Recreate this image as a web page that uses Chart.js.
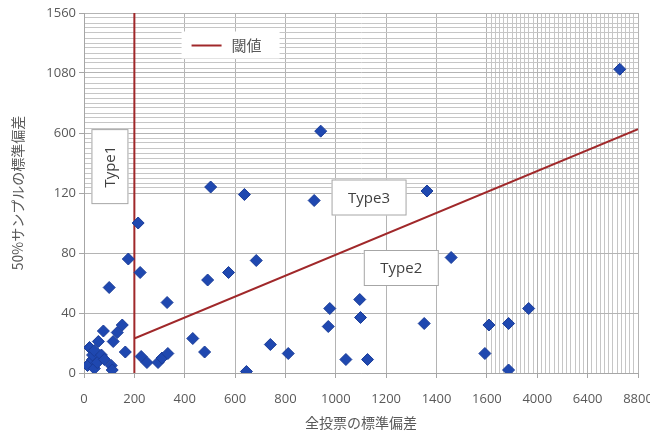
<!DOCTYPE html>
<html>
<head>
<meta charset="utf-8">
<script src="https://cdn.jsdelivr.net/npm/chart.js@4/dist/chart.umd.min.js"></script>
<style>
  html, body { margin: 0; padding: 0; background: #fff; }
  #wrap { width: 650px; height: 447px; }
</style>
</head>
<body>
<div id="wrap"><canvas id="chart" width="650" height="447"></canvas></div>
<script>
// axis breakpoints (the chart uses equal spacing between these labels)
var xBreaks = [0, 200, 400, 600, 800, 1000, 1200, 1400, 1600, 4000, 6400, 8800];
var yBreaks = [0, 40, 80, 120, 600, 1080, 1560];

// scatter: 全投票の標準偏差 vs 50%サンプルの標準偏差
var allVotesSd = [
	14, 22, 34, 34, 41, 41, 53, 57, 69, 77, 81, 108, 112, 116, 132, 152, 164, 227, 250, 294, 310, 333,
	100, 176, 223, 215, 330, 491, 574, 684, 432, 479, 645, 740, 811,
	976, 970, 1040, 1126, 1095, 1098, 1351, 1458, 1592, 1696, 2632, 2632, 3590,
	503, 637, 914, 1362, 940, 7930
];
var sampleSd = [
	5, 17, 9, 12, 15, 3, 7, 21, 12, 28, 9, 5, 2, 21, 27, 32, 14, 11, 7, 7, 10, 13,
	57, 76, 67, 100, 47, 62, 67, 75, 23, 14, 1, 19, 13,
	43, 31, 9, 9, 49, 37, 33, 77, 13, 32, 33, 2, 43,
	168, 119, 115, 136, 615, 1110
];

// 閾値 line
var thresholdX = [200, 200, 200, 8800];
var thresholdY = [1560, 0, 23, 630];

var typeLabels = ['Type1', 'Type2', 'Type3'];

var tickFont = { family: "'Open Sans', 'Noto Sans CJK JP', sans-serif", size: 13 };
var titleFont = { family: "'Noto Sans CJK JP', 'Open Sans', sans-serif", size: 14 };
var textColor = '#595959';

// map a value onto the evenly spaced break index
function toAxis(v, breaks) {
	for (var i = 0; i < breaks.length - 1; i++) {
		if (v <= breaks[i + 1]) {
			return i + (v - breaks[i]) / (breaks[i + 1] - breaks[i]);
		}
	}
	return breaks.length - 1;
}

function isMajor(v) {
	return Math.abs(v - Math.round(v)) < 1e-6;
}

// major ticks at each break, twelve minor lines per step in the compressed part
function makeTicks(max, denseFrom) {
	var ticks = [];
	for (var i = 0; i < denseFrom; i++) {
		ticks.push({ value: i });
	}
	for (var j = denseFrom * 12; j <= max * 12; j++) {
		ticks.push({ value: j / 12 });
	}
	return ticks;
}

var points = allVotesSd.map(function(x, i) {
	return { x: toAxis(x, xBreaks), y: toAxis(sampleSd[i], yBreaks) };
});
var threshold = thresholdX.map(function(x, i) {
	return { x: toAxis(x, xBreaks), y: toAxis(thresholdY[i], yBreaks) };
});

var gridColor = function(c) {
	return c.tick && isMajor(c.tick.value) ? '#b4b4b4' : '#c6c6c6';
};
var tickMarkColor = function(c) {
	return c.tick && isMajor(c.tick.value) ? '#a6a6a6' : 'rgba(0,0,0,0)';
};

function drawBox(ctx, cx, cy, w, h, text, rotate, border) {
	ctx.save();
	ctx.translate(cx, cy);
	if (rotate) ctx.rotate(-Math.PI / 2);
	var bw = rotate ? h : w;
	var bh = rotate ? w : h;
	ctx.fillStyle = '#fff';
	ctx.fillRect(-bw / 2, -bh / 2, bw, bh);
	if (border) {
		ctx.strokeStyle = '#a6a6a6';
		ctx.lineWidth = 1;
		ctx.strokeRect(-bw / 2 + 0.5, -bh / 2 + 0.5, bw - 1, bh - 1);
	}
	ctx.fillStyle = '#404040';
	ctx.font = "15px 'Open Sans', sans-serif";
	ctx.textAlign = 'center';
	ctx.textBaseline = 'middle';
	ctx.fillText(text, 0, 1);
	ctx.restore();
}

var labelPlugin = {
	id: 'labels',
	afterDraw: function(chart) {
		var ctx = chart.ctx;
		var xs = chart.scales.x, ys = chart.scales.y;
		function px(x) { return xs.getPixelForValue(toAxis(x, xBreaks)); }
		function py(y) { return ys.getPixelForValue(toAxis(y, yBreaks)); }

		drawBox(ctx, px(103), py(331), 37, 75, typeLabels[0], true, true);
		drawBox(ctx, px(1260), py(70), 75, 36, typeLabels[1], false, true);
		drawBox(ctx, px(1132), py(117), 75, 36, typeLabels[2], false, true);

		// legend
		var lx = px(582), ly = py(1300);
		ctx.save();
		ctx.fillStyle = '#fff';
		ctx.fillRect(lx - 49, ly - 14, 98, 27);
		ctx.strokeStyle = '#a0282a';
		ctx.lineWidth = 2;
		ctx.beginPath();
		ctx.moveTo(lx - 39, ly);
		ctx.lineTo(lx - 9, ly);
		ctx.stroke();
		ctx.fillStyle = textColor;
		ctx.font = "15px 'Noto Sans CJK JP', sans-serif";
		ctx.textAlign = 'left';
		ctx.textBaseline = 'middle';
		ctx.fillText('閾値', lx + 1, ly);
		ctx.restore();
	}
};

new Chart(document.getElementById('chart'), {
	type: 'scatter',
	data: {
		datasets: [
			{
				label: '閾値',
				type: 'line',
				data: threshold,
				borderColor: '#a0282a',
				borderWidth: 2,
				pointRadius: 0,
				fill: false,
				order: 2
			},
			{
				label: 'data',
				data: points,
				pointStyle: 'rectRot',
				pointRadius: 6,
				backgroundColor: '#1f48b0',
				borderColor: '#1a3c98',
				borderWidth: 1,
				order: 1
			}
		]
	},
	options: {
		responsive: false,
		animation: false,
		maintainAspectRatio: false,
		layout: { padding: { left: 8, right: 12, top: 13, bottom: 10 } },
		plugins: {
			legend: { display: false },
			tooltip: { enabled: false }
		},
		scales: {
			x: {
				type: 'linear',
				min: 0,
				max: 11,
				afterBuildTicks: function(s) { s.ticks = makeTicks(11, 8); },
				afterFit: function(s) { s.height = 64; s.paddingRight = 0; },
				ticks: {
					autoSkip: false,
					maxRotation: 0,
					padding: 13,
					font: tickFont,
					color: textColor,
					callback: function(v) { return isMajor(v) ? String(xBreaks[Math.round(v)]) : ''; }
				},
				grid: { color: gridColor, tickColor: tickMarkColor, tickLength: 5 },
				border: { color: '#a6a6a6' },
				title: {
					display: true,
					text: '全投票の標準偏差',
					font: titleFont,
					color: textColor,
					padding: { top: 0, bottom: 6 }
				}
			},
			y: {
				type: 'linear',
				min: 0,
				max: 6,
				afterBuildTicks: function(s) { s.ticks = makeTicks(6, 3); },
				afterFit: function(s) { s.width = 76; },
				ticks: {
					autoSkip: false,
					padding: 3,
					font: tickFont,
					color: textColor,
					callback: function(v) { return isMajor(v) ? String(yBreaks[Math.round(v)]) : ''; }
				},
				grid: { color: gridColor, tickColor: tickMarkColor, tickLength: 5 },
				border: { color: '#a6a6a6' },
				title: {
					display: true,
					text: '50%サンプルの標準偏差',
					font: titleFont,
					color: textColor,
					padding: { top: 1, bottom: 0 }
				}
			}
		}
	},
	plugins: [labelPlugin]
});
</script>
</body>
</html>
